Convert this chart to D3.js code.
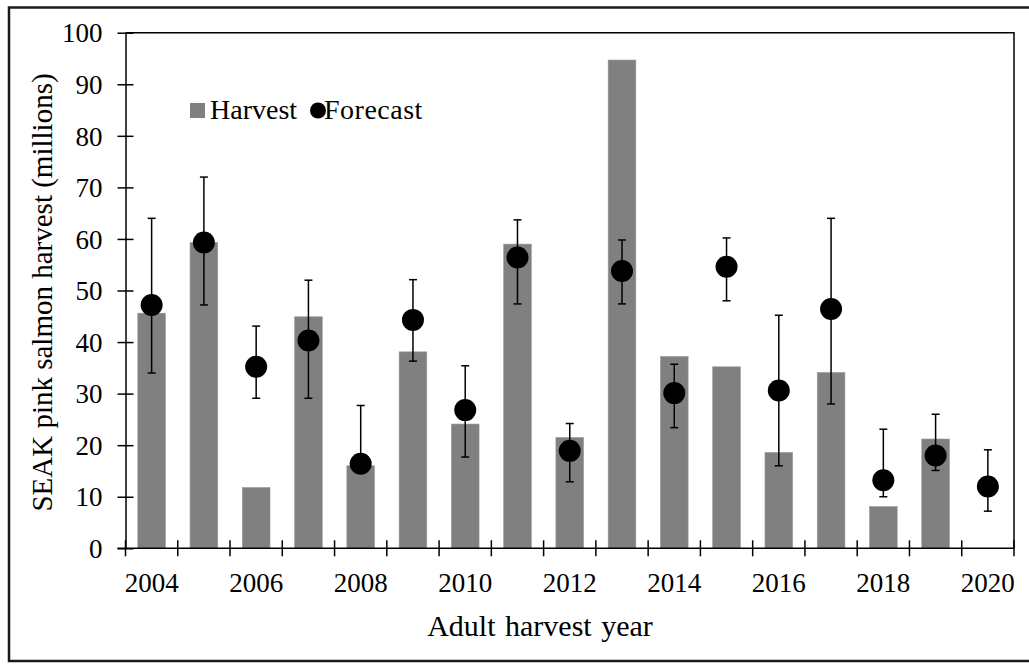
<!DOCTYPE html>
<html>
<head>
<meta charset="utf-8">
<script src="https://cdn.jsdelivr.net/npm/d3@7"></script>
<style>
  html, body { margin: 0; padding: 0; background: #fff; }
  svg { display: block; }
  text { font-family: "Liberation Serif", "Times New Roman", serif; fill: #000; }
</style>
</head>
<body>
<svg id="chart" width="1029" height="664"></svg>
<script>
const years = [2004,2005,2006,2007,2008,2009,2010,2011,2012,2013,2014,2015,2016,2017,2018,2019,2020];
const harvest = [45.6,59.3,11.8,44.9,16.0,38.1,24.1,59.0,21.5,94.7,37.2,35.2,18.6,34.1,8.1,21.2,null];
const forecast = [47.2,59.3,35.2,40.3,16.4,44.3,26.8,56.4,18.9,53.8,30.1,54.6,30.6,46.4,13.2,18.0,12.0];
const forecastLow = [34.0,47.2,29.1,29.1,15.0,36.3,17.7,47.4,12.9,47.4,23.4,48.0,16.0,28.0,10.0,15.1,7.2];
const forecastHigh = [64.0,72.0,43.1,52.0,27.7,52.1,35.4,63.7,24.2,59.8,35.7,60.2,45.2,64.0,23.1,26.0,19.1];
const yTicks = [0,10,20,30,40,50,60,70,80,90,100];
const xLabelYears = [2004,2006,2008,2010,2012,2014,2016,2018,2020];

const svg = d3.select("#chart");
const pL = 125.5, pR = 1014, pT = 32.7, pB = 548.3;

// outer frame
svg.append("rect").attr("x", 9).attr("y", 7.5).attr("width", 1040).attr("height", 653.5)
  .attr("fill", "none").attr("stroke", "#1a1a1a").attr("stroke-width", 2.5);

const x = d3.scaleBand().domain(years).range([pL, pR]).paddingInner(0).paddingOuter(0);
const y = d3.scaleLinear().domain([0, 100]).range([pB, pT]);

// plot frame top/right
svg.append("path")
  .attr("d", `M${pL},${pT}H${pR}V${pB}`)
  .attr("fill", "none").attr("stroke", "#000").attr("stroke-width", 1.5);

// bars
const bw = x.bandwidth() * 0.53;
svg.append("g").selectAll("rect")
  .data(years.map((yr, i) => ({yr, v: harvest[i]})).filter(d => d.v !== null))
  .join("rect")
  .attr("x", d => x(d.yr) + (x.bandwidth() - bw) / 2)
  .attr("y", d => y(d.v))
  .attr("width", bw)
  .attr("height", d => pB - y(d.v))
  .attr("fill", "#808080")
  .attr("stroke", "#9a9a9a").attr("stroke-width", 0.6);

// y axis
const yAxis = d3.axisLeft(y).tickValues(yTicks).tickSizeInner(8).tickSizeOuter(0).tickPadding(15);
const gy = svg.append("g").attr("transform", `translate(${pL},0)`).call(yAxis);
gy.select(".domain").attr("stroke", "#000").attr("stroke-width", 1.5);
gy.selectAll(".tick line").attr("x2", 8).attr("x1", -8).attr("stroke", "#000").attr("stroke-width", 1.5);
gy.selectAll(".tick text").attr("font-size", 27).attr("font-family", "Liberation Serif, Times New Roman, serif").attr("x", -23).attr("dy", "0.34em");

// x axis: tick marks at band boundaries
const boundaries = years.map(yr => x(yr)).concat([pR]);
svg.append("g").selectAll("line").data(boundaries).join("line")
  .attr("x1", d => d).attr("x2", d => d)
  .attr("y1", pB - 8).attr("y2", pB + 8)
  .attr("stroke", "#000").attr("stroke-width", 1.5);
svg.append("line").attr("x1", pL - 8).attr("x2", pR).attr("y1", pB).attr("y2", pB)
  .attr("stroke", "#000").attr("stroke-width", 1.5);
svg.append("g").selectAll("text").data(xLabelYears).join("text")
  .attr("x", d => x(d) + x.bandwidth() / 2)
  .attr("y", 592)
  .attr("text-anchor", "middle")
  .attr("font-size", 27)
  .text(d => d);

// error bars
const eb = svg.append("g");
const capW = 4;
years.forEach((yr, i) => {
  const cx = x(yr) + x.bandwidth() / 2;
  eb.append("line").attr("x1", cx).attr("x2", cx)
    .attr("y1", y(forecastLow[i])).attr("y2", y(forecastHigh[i]))
    .attr("stroke", "#000").attr("stroke-width", 1.5);
  [forecastLow[i], forecastHigh[i]].forEach(v => {
    eb.append("line").attr("x1", cx - capW).attr("x2", cx + capW)
      .attr("y1", y(v)).attr("y2", y(v))
      .attr("stroke", "#000").attr("stroke-width", 1.5);
  });
});

// forecast points
svg.append("g").selectAll("circle")
  .data(years.map((yr, i) => ({yr, v: forecast[i]})))
  .join("circle")
  .attr("cx", d => x(d.yr) + x.bandwidth() / 2)
  .attr("cy", d => y(d.v))
  .attr("r", 11)
  .attr("fill", "#000");

// legend
const lg = svg.append("g");
lg.append("rect").attr("x", 190).attr("y", 103).attr("width", 15).attr("height", 15).attr("fill", "#808080");
lg.append("text").attr("x", 210).attr("y", 119).attr("font-size", 28).text("Harvest");
lg.append("circle").attr("cx", 318).attr("cy", 110.5).attr("r", 8).attr("fill", "#000");
lg.append("text").attr("x", 324).attr("y", 119).attr("font-size", 28).attr("letter-spacing", 0.5).text("Forecast");

// axis titles
svg.append("text")
  .attr("transform", `translate(52,292.5) rotate(-90)`)
  .attr("text-anchor", "middle")
  .attr("font-size", 29)
  .text("SEAK pink salmon harvest (millions)");
svg.append("text")
  .attr("x", 540).attr("y", 636)
  .attr("text-anchor", "middle")
  .attr("font-size", 30)
  .attr("word-spacing", 2)
  .text("Adult harvest year");
</script>
</body>
</html>
